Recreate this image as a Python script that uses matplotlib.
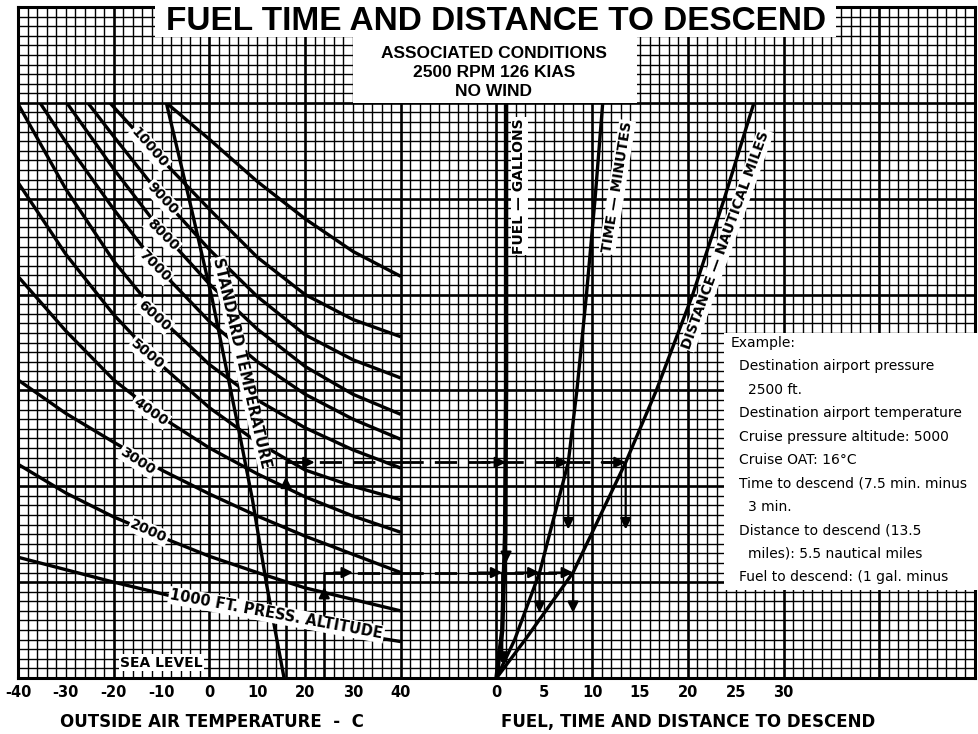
import numpy as np
import matplotlib.pyplot as plt
from matplotlib.patches import Rectangle

# ---- data ----
# left chart: outside air temperature (C) vs chart height (grid cells, 0 = bottom, 60 = top)
temps = [-40, -30, -20, -10, 0, 10, 20, 30, 40]
alt_1000 = [12.6, 11.3, 10.0, 8.8, 7.6, 6.5, 5.5, 4.6, 3.8]
alt_2000 = [22.3, 19.3, 16.8, 14.7, 12.7, 11.0, 9.4, 8.2, 7.0]
alt_3000 = [31.1, 27.6, 24.6, 21.7, 19.2, 16.9, 14.8, 12.9, 11.0]
alt_4000 = [41.9, 36.2, 31.1, 27.2, 24.0, 21.3, 18.9, 16.9, 15.2]
alt_5000 = [51.7, 44.2, 37.9, 32.6, 28.2, 24.6, 21.7, 20.0, 18.6]
alt_6000 = [59.9, 51.0, 43.5, 37.4, 32.7, 29.0, 26.1, 23.8, 21.9]
t_7000 = [-35.4, -30, -20, -10, 0, 10, 20, 30, 40]
alt_7000 = [60.0, 55.9, 48.9, 42.4, 37.2, 33.0, 29.6, 27.0, 24.9]
t_8000 = [-29.8, -20, -10, 0, 10, 20, 30, 40]
alt_8000 = [60.0, 53.1, 46.6, 41.1, 36.4, 32.5, 29.6, 27.5]
t_9000 = [-25.4, -20, -10, 0, 10, 20, 30, 40]
alt_9000 = [60.0, 56.5, 50.2, 44.7, 39.8, 35.8, 33.2, 31.3]
t_10000 = [-20.8, -10, 0, 10, 20, 30, 40]
alt_10000 = [60.0, 54.1, 48.9, 43.9, 40.0, 37.4, 35.6]
t_12000 = [-9.0, 0, 10, 20, 30, 40]
alt_12000 = [60.0, 56.2, 51.8, 47.9, 44.5, 41.9]

std_t = [-9.0, -4.2, 0.6, 6.25, 9.0, 11.9, 15.6]
std_h = [60.0, 49.9, 39.5, 25.6, 18.6, 9.9, 0.0]

# right chart: fuel (gal), time (min), distance (nm) vs chart height
fuel_h = [0, 5, 15, 30, 60]
fuel_val = [0, 0.6, 0.9, 1.0, 1.0]
line_h = [0, 4, 11, 22.5, 30, 40, 50, 60]
time_val = [0, 1.9, 4.5, 7.5, 8.4, 9.4, 10.3, 11.1]
dist_val = [0, 3.0, 8.0, 13.5, 16.7, 20.5, 23.8, 26.9]

# worked example
ex_oat = [16, 24]
ex_h = [22.5, 11.0]
ex_fuel = [1.0, 0.6]
ex_time = [7.5, 4.5]
ex_dist = [13.5, 8.0]

left_ticks = [-40, -30, -20, -10, 0, 10, 20, 30, 40]
left_labels = ["-40", "-30", "-20", "-10", "0", "10", "20", "30", "40"]
right_ticks = [0, 5, 10, 15, 20, 25, 30]

example_lines = [
    "Example:",
    "Destination airport pressure",
    "2500 ft.",
    "Destination airport temperature",
    "Cruise pressure altitude: 5000",
    "Cruise OAT: 16\u00b0C",
    "Time to descend (7.5 min. minus",
    "3 min.",
    "Distance to descend (13.5",
    "miles): 5.5 nautical miles",
    "Fuel to descend: (1 gal. minus",
]
example_indent = [0, 1, 2, 1, 1, 1, 1, 2, 1, 2, 1]

# ---- layout ----
W, H = 979, 734
fig = plt.figure(figsize=(W / 100, H / 100), dpi=100)


def fx(px):
    return px / W


def fy(py):
    return 1 - py / H


gx0, gx1, gy0, gy1 = 18, 975, 7, 678
cw = (gx1 - gx0) / 100.0
ch = (gy1 - gy0) / 70.0

# graph paper
gax = fig.add_axes([fx(gx0), fy(gy1), (gx1 - gx0) / W, (gy1 - gy0) / H])
gax.set_xlim(0, 100)
gax.set_ylim(0, 70)
gax.set_xticks(np.arange(0, 101, 10))
gax.set_xticks(np.arange(0, 101, 1), minor=True)
gax.set_yticks(np.arange(0, 71, 10))
gax.set_yticks(np.arange(0, 71, 1), minor=True)
gax.grid(which="major", color="black", lw=1.9)
gax.grid(which="minor", color="black", lw=1.0)
gax.tick_params(which="both", length=0, labelbottom=False, labelleft=False)
for s in gax.spines.values():
    s.set_linewidth(2.2)

bold = dict(family="DejaVu Sans", weight="bold")
wbox = dict(fc="white", ec="none", pad=1.0)

# left chart
ax = fig.add_axes([fx(gx0), fy(gy1), 40 * cw / W, 60 * ch / H])
ax.set_xlim(-40, 40)
ax.set_ylim(0, 60)
ax.patch.set_visible(False)
for s in ax.spines.values():
    s.set_visible(False)
ax.set_yticks([])
ax.set_xticks(left_ticks)
ax.set_xticklabels(left_labels, fontsize=10.5, **bold)
ax.tick_params(length=0, pad=5)

lw_c = 2.4
for tt, hh in [(temps, alt_1000), (temps, alt_2000), (temps, alt_3000),
               (temps, alt_4000), (temps, alt_5000), (temps, alt_6000),
               (t_7000, alt_7000), (t_8000, alt_8000), (t_9000, alt_9000),
               (t_10000, alt_10000), (t_12000, alt_12000)]:
    ax.plot(tt, hh, color="black", lw=lw_c, solid_capstyle="butt")
ax.plot(std_t, std_h, color="black", lw=lw_c)

alt_labels = [("10000", -12.5, 55.3, -49), ("9000", -9.8, 50.0, -47),
              ("8000", -9.8, 46.2, -45), ("7000", -11.5, 43.0, -45),
              ("6000", -11.5, 37.8, -42), ("5000", -12.9, 33.8, -40),
              ("4000", -12.3, 27.8, -35), ("3000", -15.0, 22.6, -33),
              ("2000", -12.7, 15.3, -24)]
for txt, tx, ty, rot in alt_labels:
    ax.text(tx, ty, txt, rotation=rot, ha="center", va="center",
            rotation_mode="anchor", fontsize=10, bbox=wbox, **bold)
ax.text(14.0, 6.6, "1000 FT. PRESS. ALTITUDE", rotation=-10.5, ha="center",
        va="center", rotation_mode="anchor", fontsize=10.5, bbox=wbox, **bold)
ax.text(-10.0, 1.6, "SEA LEVEL", ha="center", va="center", fontsize=10,
        bbox=wbox, **bold)
ax.text(6.8, 32.9, "STANDARD TEMPERATURE", rotation=-77, ha="center",
        va="center", rotation_mode="anchor", fontsize=10.5,
        bbox=dict(fc="white", ec="none", pad=0.3), **bold)

arrow = dict(arrowstyle="-|>", color="black", lw=1.6, mutation_scale=16,
             shrinkA=0, shrinkB=0)
# example on the left chart
for t0, h0 in zip(ex_oat, ex_h):
    ax.plot([t0, t0], [0, h0], color="black", lw=1.8)
    ax.annotate("", xy=(t0, h0 - 1.5), xytext=(t0, h0 - 4.5), arrowprops=arrow)
    ax.plot([t0, 40], [h0, h0], color="black", lw=2.0, dashes=(8, 4))
    ax.annotate("", xy=(t0 + 6, h0), xytext=(t0 + 2, h0), arrowprops=arrow)

# right chart
rax = fig.add_axes([fx(gx0 + 40 * cw), fy(gy1), 60 * cw / W, 60 * ch / H])
rax.set_xlim(-10, 50)
rax.set_ylim(0, 60)
rax.patch.set_visible(False)
for s in rax.spines.values():
    s.set_visible(False)
rax.set_yticks([])
rax.set_xticks(right_ticks)
rax.set_xticklabels([str(v) for v in right_ticks], fontsize=10.5, **bold)
rax.tick_params(length=0, pad=5)

rax.plot(fuel_val, fuel_h, color="black", lw=3.2)
rax.plot(time_val, line_h, color="black", lw=lw_c)
rax.plot(dist_val, line_h, color="black", lw=lw_c)

rax.text(2.4, 51.3, "FUEL \u2014 GALLONS", rotation=90, ha="center", va="center",
         rotation_mode="anchor", fontsize=10, bbox=wbox, **bold)
rax.text(12.6, 51.2, "TIME \u2014 MINUTES", rotation=81, ha="center", va="center",
         rotation_mode="anchor", fontsize=10, bbox=wbox, **bold)
rax.text(24.0, 45.7, "DISTANCE \u2014 NAUTICAL MILES", rotation=70, ha="center",
         va="center", rotation_mode="anchor", fontsize=10, bbox=wbox, **bold)

for h0, fu, tm, di in zip(ex_h, ex_fuel, ex_time, ex_dist):
    rax.plot([-10, di], [h0, h0], color="black", lw=2.0, dashes=(8, 4))
    for xe in (fu, tm, di):
        rax.annotate("", xy=(xe, h0), xytext=(xe - 2.5, h0), arrowprops=arrow)
rax.annotate("", xy=(ex_fuel[0], 12.0), xytext=(ex_fuel[0], 22.5), arrowprops=arrow)
rax.annotate("", xy=(ex_fuel[1], 1.5), xytext=(ex_fuel[1], 11.0), arrowprops=arrow)
for xe in (ex_time[0], ex_dist[0]):
    rax.annotate("", xy=(xe, 15.5), xytext=(xe, 22.5), arrowprops=arrow)
for xe in (ex_time[1], ex_dist[1]):
    rax.annotate("", xy=(xe, 6.8), xytext=(xe, 11.0), arrowprops=arrow)

# white panels over the paper
for x0, y0, x1, y1 in [(155, 4, 836, 37), (353, 37, 637, 103), (724, 333, 985, 590)]:
    fig.add_artist(Rectangle((fx(x0), fy(y1)), (x1 - x0) / W, (y1 - y0) / H,
                             transform=fig.transFigure, fc="white", ec="none",
                             zorder=5))

fig.text(fx(496), fy(22), "FUEL TIME AND DISTANCE TO DESCEND", ha="center",
         va="center", fontsize=24, family="Liberation Sans", weight="bold", zorder=6)
for i, line in enumerate(["ASSOCIATED CONDITIONS", "2500 RPM 126 KIAS", "NO WIND"]):
    fig.text(fx(494), fy(53 + 19.5 * i), line, ha="center", va="center",
             fontsize=12.5, family="Liberation Sans", weight="bold", zorder=6)

for i, (line, ind) in enumerate(zip(example_lines, example_indent)):
    fig.text(fx(731 + 8.5 * ind), fy(343 + 23.4 * i), line, ha="left",
             va="center", fontsize=10, family="DejaVu Sans", zorder=6)

fig.text(fx(212), fy(722), "OUTSIDE AIR TEMPERATURE  -  C", ha="center",
         va="center", fontsize=12, **bold)
fig.text(fx(688), fy(722), "FUEL, TIME AND DISTANCE TO DESCEND", ha="center",
         va="center", fontsize=12, **bold)

fig.savefig("out.png", dpi=100, facecolor="white")
